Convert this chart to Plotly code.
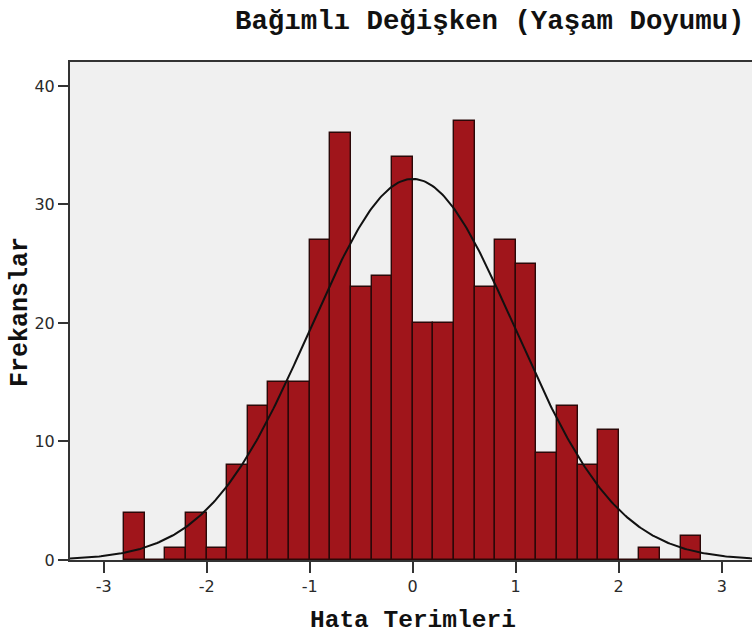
import math
import plotly.graph_objects as go

# ---- data ----
bin_left_edges = [-2.8, -2.6, -2.4, -2.2, -2.0, -1.8, -1.6, -1.4, -1.2, -1.0,
                  -0.8, -0.6, -0.4, -0.2, 0.0, 0.2, 0.4, 0.6, 0.8, 1.0,
                  1.2, 1.4, 1.6, 1.8, 2.0, 2.2, 2.4, 2.6]
counts = [4, 0, 1, 4, 1, 8, 13, 15, 15, 27,
          36, 23, 24, 34, 20, 20, 37, 23, 27, 25,
          9, 13, 8, 11, 0, 1, 0, 2]
bin_width = 0.2
x_tick_vals = [-3, -2, -1, 0, 1, 2, 3]
x_tick_text = ["-3", "-2", "-1", "0", "1", "2", "3"]
y_tick_vals = [0, 10, 20, 30, 40]
y_tick_text = ["0", "10", "20", "30", "40"]

# normal curve parameters (SPSS summary of standardized residuals)
curve_mean = 0.0
curve_sd = 0.995
n_total = sum(counts)

title_text = "Bağımlı Değişken (Yaşam Doyumu)"
x_title = "Hata Terimleri"
y_title = "Frekanslar"

x_range = [-3.327, 3.294]
y_range = [0, 42.02]

# ---- build ----
bin_centers = [e + bin_width / 2 for e in bin_left_edges]

n_pts = 400
curve_x = [x_range[0] + (x_range[1] - x_range[0]) * i / (n_pts - 1) for i in range(n_pts)]
curve_y = [n_total * bin_width / (curve_sd * math.sqrt(2 * math.pi))
           * math.exp(-0.5 * ((v - curve_mean) / curve_sd) ** 2) for v in curve_x]

fig = go.Figure()
fig.add_trace(go.Bar(
    x=bin_centers, y=counts, width=bin_width,
    marker=dict(color="#A0151B", line=dict(color="#2B0808", width=1.4)),
    hoverinfo="x+y", showlegend=False,
))
fig.add_trace(go.Scatter(
    x=curve_x, y=curve_y, mode="lines",
    line=dict(color="#111111", width=2), showlegend=False, hoverinfo="skip",
))

W, H = 752, 635
L, T, B = 70, 62, 75

tick_font = dict(family="DejaVu Sans", size=16, color="#2a2a2a")

fig.update_layout(
    width=W, height=H,
    margin=dict(l=L, r=0, t=T, b=B, pad=0),
    paper_bgcolor="white",
    plot_bgcolor="#F0F0F0",
    bargap=0,
    showlegend=False,
    xaxis=dict(
        range=x_range, tickmode="array", tickvals=x_tick_vals, ticktext=x_tick_text,
        showgrid=False, zeroline=False,
        showline=True, linecolor="#333333", linewidth=2, mirror=True,
        ticks="outside", ticklen=11, tickwidth=2, tickcolor="#333333",
        tickfont=tick_font,
    ),
    yaxis=dict(
        range=y_range, tickmode="array", tickvals=y_tick_vals, ticktext=y_tick_text,
        showgrid=False, zeroline=False,
        showline=True, linecolor="#333333", linewidth=2,
        ticks="outside", ticklen=10, tickwidth=2, tickcolor="#333333",
        tickfont=tick_font,
    ),
    annotations=[
        dict(text="<b>" + title_text + "</b>", xref="paper", yref="paper",
             x=(233 - L) / (W - L), y=1 + (T - 21) / (H - T - B),
             xanchor="left", yanchor="middle", showarrow=False,
             font=dict(family="Liberation Mono", size=27.4, color="#111111")),
        dict(text="<b>" + x_title + "</b>", xref="paper", yref="paper",
             x=(413 - L) / (W - L), y=-(620 - (H - B)) / (H - T - B),
             xanchor="center", yanchor="middle", showarrow=False,
             font=dict(family="Liberation Mono", size=24.5, color="#111111")),
        dict(text="<b>" + y_title + "</b>", xref="paper", yref="paper",
             x=-(L - 20) / (W - L), y=1 - (312 - T) / (H - T - B),
             xanchor="center", yanchor="middle", showarrow=False, textangle=-90,
             font=dict(family="Liberation Mono", size=25, color="#111111")),
    ],
)

fig.write_html(
    "out.html",
    config={"displayModeBar": False},
    post_script="document.body.style.margin='0';document.body.style.overflow='hidden';",
)
